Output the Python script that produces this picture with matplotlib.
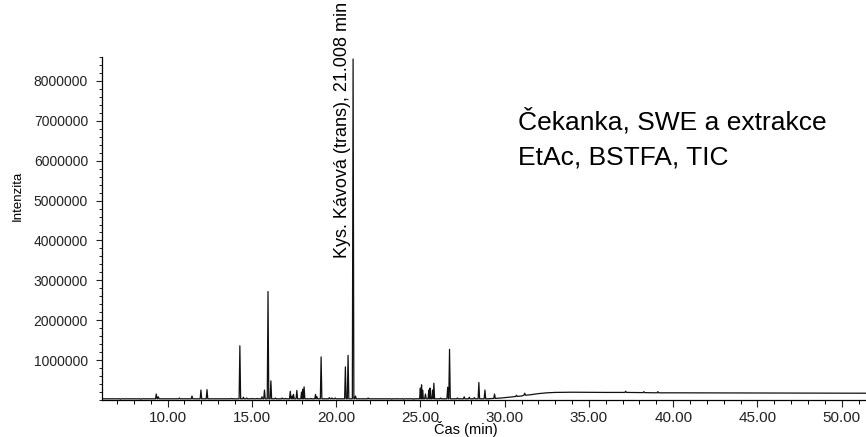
import matplotlib
matplotlib.use("Agg")
import matplotlib.pyplot as plt
from matplotlib.ticker import MultipleLocator, FixedLocator
import numpy as np

plt.rcParams['font.family'] = ['Liberation Sans', 'DejaVu Sans']

# retention times (min) and apex intensities of peaks sitting on the flat part of the baseline
peak_t = [7.2, 8.4, 9.33, 9.45, 10.7, 11.0, 11.45, 11.98, 12.34, 13.1, 13.8,
          14.29, 14.5, 14.7, 15.0, 15.3, 15.6, 15.75, 15.96, 16.13, 16.4, 16.8, 17.0,
          17.28, 17.4, 17.47, 17.67, 17.95, 18.02, 18.1, 18.5, 18.78, 18.86,
          19.11, 19.6, 19.75, 19.95, 20.55, 20.71, 21.008, 21.15, 21.9, 22.5,
          23.3, 24.0, 24.6, 25.0, 25.07, 25.13, 25.3, 25.5, 25.57, 25.72, 25.8,
          26.2, 26.62, 26.73, 27.2, 27.6, 27.9, 28.2, 28.47, 28.83]
peak_h = [0.02, 0.02, 0.15, 0.08, 0.05, 0.03, 0.10, 0.25, 0.26, 0.03, 0.04,
          1.36, 0.07, 0.05, 0.04, 0.04, 0.08, 0.25, 2.72, 0.48, 0.05, 0.05, 0.04,
          0.22, 0.10, 0.14, 0.24, 0.20, 0.27, 0.33, 0.04, 0.14, 0.08,
          1.08, 0.06, 0.05, 0.05, 0.83, 1.12, 8.55, 0.10, 0.05, 0.03,
          0.02, 0.02, 0.02, 0.30, 0.38, 0.25, 0.15, 0.25, 0.30, 0.25, 0.42,
          0.05, 0.32, 1.27, 0.05, 0.08, 0.07, 0.06, 0.44, 0.25]
flat_level = 0.03

# peaks riding on the rising/plateau part of the baseline
late_t = [29.4, 30.7, 31.19, 37.18, 38.26, 39.09]
late_h = [0.15, 0.12, 0.17, 0.22, 0.21, 0.21]
late_base = [0.04, 0.09, 0.12, 0.19, 0.185, 0.18]

# baseline drift (min, intensity)
base_t = [6.1, 29.0, 29.8, 30.5, 31.0, 31.5, 32.0, 32.5, 33.0, 34.0, 36.0, 40.0, 45.0, 51.5]
base_y = [0.03, 0.03, 0.05, 0.08, 0.10, 0.13, 0.16, 0.18, 0.19, 0.195, 0.19, 0.18, 0.175, 0.17]

main_t = 21.008
main_name = "Kys. Kávová (trans)"
x_ticks = [10, 15, 20, 25, 30, 35, 40, 45, 50]
y_ticks = [1e6, 2e6, 3e6, 4e6, 5e6, 6e6, 7e6, 8e6]

# build the trace: baseline knots plus a narrow spike per peak
w = 0.045
pts = list(zip(base_t, base_y))
for t, h in zip(peak_t, peak_h):
    pts += [(t - w, flat_level), (t, h), (t + w, flat_level)]
for t, h, b in zip(late_t, late_h, late_base):
    pts += [(t - w, b), (t, h), (t + w, b)]
pts.sort(key=lambda p: p[0])
tt = np.array([p[0] for p in pts])
yy = np.array([p[1] for p in pts]) * 1e6

fig = plt.figure(figsize=(8.66, 4.37), dpi=100)
ax = fig.add_axes([102/866, 37/437, 764/866, 343/437])
ax.plot(tt, yy, color='#111111', lw=0.9)

ax.set_xlim(6.11, 51.44)
ax.set_ylim(0, 8.6e6)
ax.spines['top'].set_visible(False)
ax.spines['right'].set_visible(False)
ax.spines['left'].set_linewidth(0.9)
ax.spines['bottom'].set_linewidth(0.9)

ax.xaxis.set_major_locator(FixedLocator(x_ticks))
ax.set_xticklabels([f"{v:.2f}" for v in x_ticks])
ax.xaxis.set_minor_locator(MultipleLocator(1))
ax.yaxis.set_major_locator(FixedLocator(y_ticks))
ax.set_yticklabels([f"{int(v)}" for v in y_ticks])
ax.yaxis.set_minor_locator(MultipleLocator(200000))
ax.tick_params(axis='x', which='major', length=5, width=0.8, labelsize=11, pad=3, colors='#222222')
ax.tick_params(axis='x', which='minor', length=3, width=0.7)
ax.tick_params(axis='y', which='major', length=4, width=0.8, labelsize=10, pad=6, colors='#222222')
ax.tick_params(axis='y', which='minor', length=2, width=0.6)

ax.set_xlabel("Čas (min)", fontsize=10.5)
ax.xaxis.set_label_coords(0.476, -0.062)
ax.set_ylabel("Intenzita", fontsize=9.5)
ax.yaxis.set_label_coords(-0.102, 0.596)

ax.text(main_t - 0.62, 0.414, f"{main_name}, {main_t:.3f} min", rotation=90,
        ha='center', va='bottom', fontsize=13,
        transform=ax.get_xaxis_transform(), clip_on=False)

fig.text(518/866, 1 - 108/437, "Čekanka, SWE a extrakce\nEtAc, BSTFA, TIC",
         fontsize=19, ha='left', va='top', linespacing=1.6)

fig.savefig("out.png", dpi=100)
